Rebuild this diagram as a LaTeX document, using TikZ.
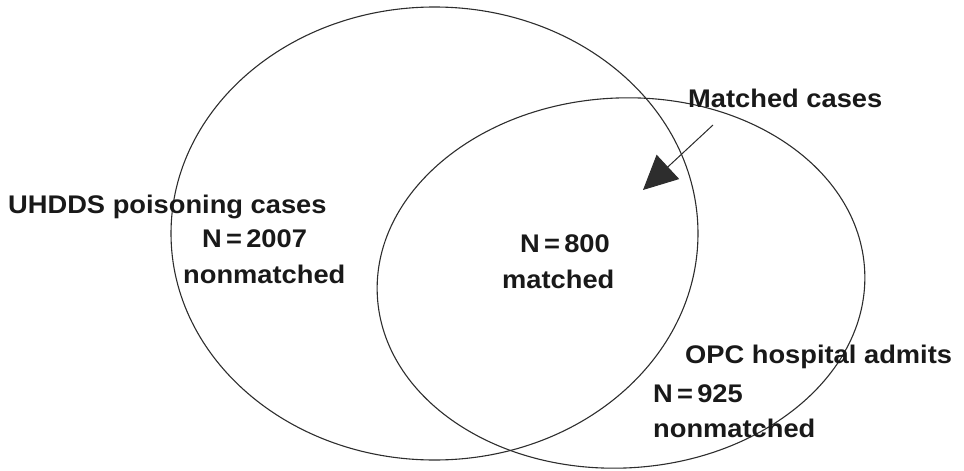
\documentclass[tikz,border=0pt]{standalone}
\usepackage{fontspec}
\setmainfont{Liberation Sans}
\newfontfamily\labelfont[FakeStretch=1.07]{Liberation Sans}
\usepackage{tikz}
\usetikzlibrary{positioning,calc,shapes.geometric,arrows.meta}
\definecolor{inkgray}{RGB}{45,45,45}

\begin{document}
\begin{tikzpicture}[
		x=1pt, y=-1pt,
		% Style cho hai tập hợp
		set_ellipse/.style={
			ellipse, draw=inkgray, line width=1.1pt,
			inner sep=0pt
		},
		% Style cho chữ
		set_label/.style={
			anchor=base west, inner sep=0pt, text=black!90,
			font=\labelfont\fontsize{25.5}{30}\selectfont\bfseries
		},
		% Mũi tên chỉ vùng giao
		pointer_arrow/.style={
			-{Triangle[length=34pt, width=33pt]}, draw=inkgray, fill=inkgray, line width=1pt
		}
		]
		\useasboundingbox (0,0) rectangle (964,471);
		
		% Hai hình elip
		\node[set_ellipse, minimum width=527pt, minimum height=453pt] (uhdds) at (434.5,233.5) {};
		\node[set_ellipse, minimum width=488pt, minimum height=370pt, rotate=3] (opc) at (621,283) {};
		
		% Tập UHDDS
		\node[set_label] (uhdds_name) at (8,213) {UHDDS poisoning cases};
		\node[set_label] (uhdds_n) at (202,247) {N\,=\,2007};
		\node[set_label] (uhdds_non) at (183,283) {nonmatched};
		
		% Vùng giao
		\node[set_label] (both_n) at (520,252) {N\,=\,800};
		\node[set_label] (both_txt) at (502,288) {matched};
		
		% Tập OPC
		\node[set_label] (opc_name) at (685,363) {OPC hospital admits};
		\node[set_label] (opc_n) at (653,402) {N\,=\,925};
		\node[set_label] (opc_non) at (653,437) {nonmatched};
		
		% Chú thích và mũi tên
		\node[set_label] (match_note) at (688,107) {Matched cases};
		\coordinate (arrow_start) at (713,125);
		\coordinate (arrow_tip) at (643,190);
		\draw[pointer_arrow] (arrow_start) -- (arrow_tip);
		
\end{tikzpicture}
\end{document}
